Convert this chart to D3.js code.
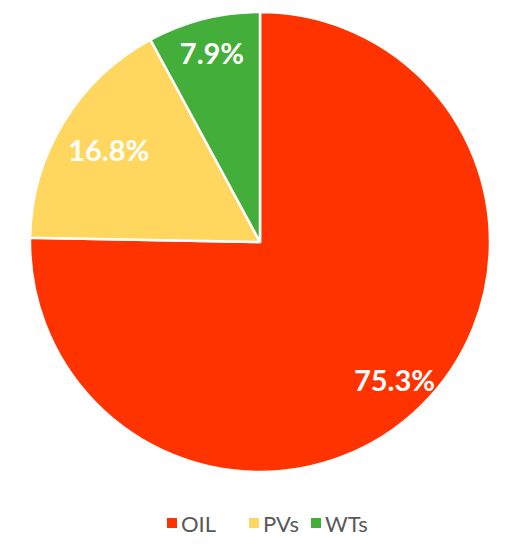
<!DOCTYPE html>
<html>
<head>
<meta charset="utf-8">
<script src="https://cdn.jsdelivr.net/npm/d3@7"></script>
<style>
html,body{margin:0;padding:0;background:#fff;}
svg{display:block;}
</style>
</head>
<body>
<svg id="chart" width="511" height="550"></svg>
<script>
const categories = ["OIL", "PVs", "WTs"];
const values = [75.3, 16.8, 7.9];
const colors = ["#FF3300", "#FFD75E", "#43AE3A"];

const svg = d3.select("#chart");
const cx = 260, cy = 242, r = 230;
const g = svg.append("g").attr("transform", `translate(${cx},${cy})`);

const data = categories.map((c, i) => ({cat: c, value: values[i], color: colors[i]}));
const pie = d3.pie().value(d => d.value).sort(null);
const arcs = pie(data);
const arc = d3.arc().innerRadius(0).outerRadius(r);

g.selectAll("path").data(arcs).enter().append("path")
  .attr("d", arc)
  .attr("fill", d => d.data.color)
  .attr("stroke", "#fff")
  .attr("stroke-width", 2.5)
  .attr("stroke-linejoin", "round");

const labelRadius = [0.835, 0.77, 0.85];
g.selectAll("text.lbl").data(arcs).enter().append("text")
  .attr("class", "lbl")
  .attr("transform", (d, i) => {
    const lr = r * labelRadius[i];
    const la = d3.arc().innerRadius(lr).outerRadius(lr);
    const [x, y] = la.centroid(d);
    return `translate(${x},${y})`;
  })
  .attr("text-anchor", "middle")
  .attr("dominant-baseline", "central")
  .attr("fill", "#fff")
  .attr("font-family", "Lato, 'Open Sans', sans-serif")
  .attr("font-weight", "bold")
  .attr("font-size", 29)
  .text(d => d.data.value.toFixed(1) + "%");

// Legend
const legendX = [167, 249, 311];
const leg = svg.append("g");
const items = leg.selectAll("g").data(data).enter().append("g")
  .attr("transform", (d, i) => `translate(${legendX[i]},523)`);
items.append("rect")
  .attr("x", 0).attr("y", -5).attr("width", 10).attr("height", 10)
  .attr("fill", d => d.color);
items.append("text")
  .attr("x", 14).attr("y", 0)
  .attr("dominant-baseline", "central")
  .attr("fill", "#595959")
  .attr("font-family", "Lato, 'Open Sans', sans-serif")
  .attr("font-size", 22)
  .text(d => d.cat);
</script>
</body>
</html>
